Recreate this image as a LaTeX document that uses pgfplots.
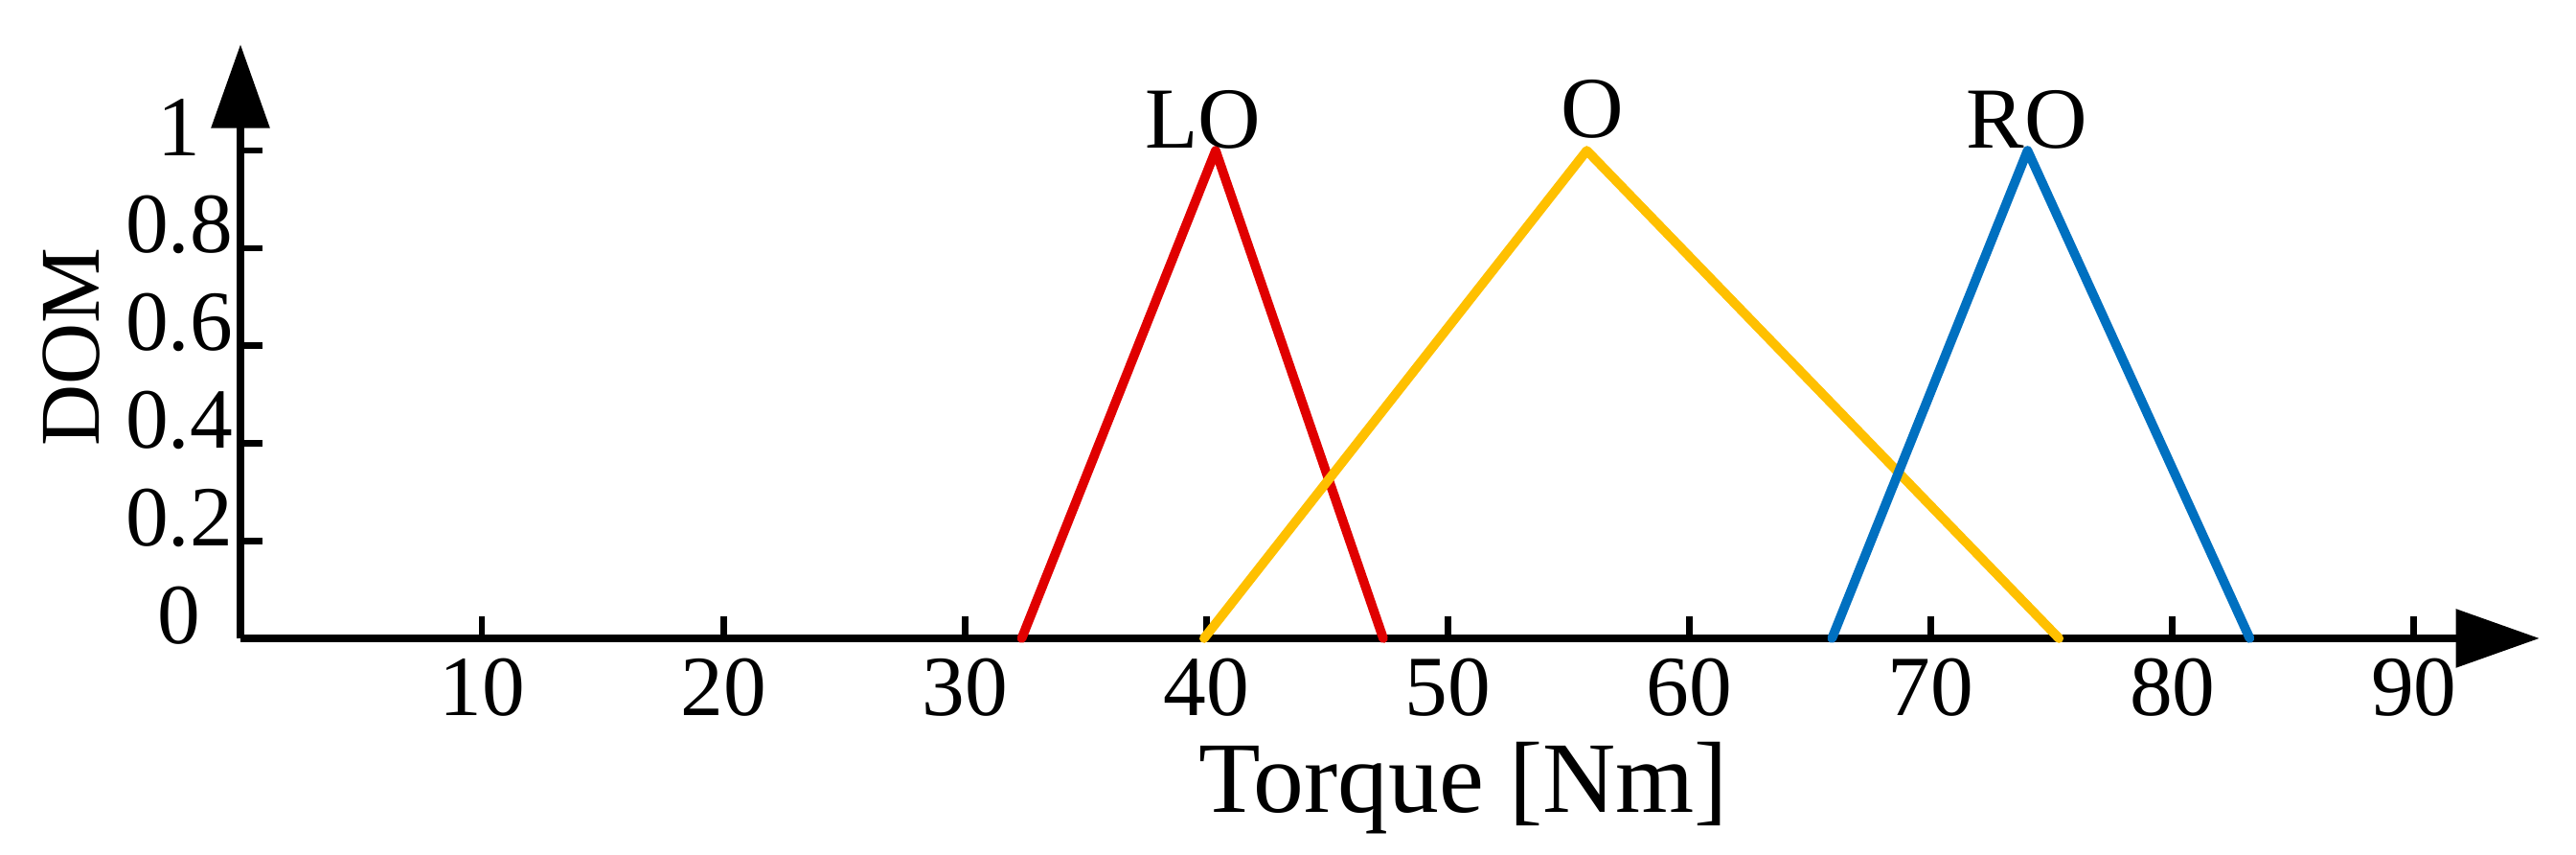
\documentclass[border=0pt]{standalone}
\usepackage{fontspec}
\setmainfont{Liberation Serif}
\usepackage{pgfplots}
\pgfplotsset{compat=1.18}
\usetikzlibrary{arrows.meta}

\definecolor{lored}{RGB}{224,0,0}
\definecolor{ogold}{RGB}{255,192,0}
\definecolor{roblue}{RGB}{0,112,192}

\begin{document}
\begin{tikzpicture}
\begin{axis}[
    scale only axis,
    width=357pt, height=92.2pt,
    xmin=0, xmax=95.2,
    ymin=0, ymax=1.218,
    axis lines=left,
    axis line style={line width=1.3pt, -{Triangle[length=13pt,width=8.8pt]}},
    tick align=inside,
    major tick length=3.4pt,
    tick style={black, line width=1pt},
    xtick={10,20,...,90},
    ytick={0,0.2,0.4,0.6,0.8,1},
    yticklabels={0,0.2,0.4,0.6,0.8,1},
    /pgf/number format/assume math mode=true,
    tick label style={font=\fontsize{13.3}{15}\selectfont},
    xticklabel style={anchor=center, yshift=-7.6pt},
    yticklabel style={anchor=center, xshift=-9.5pt, yshift=3.6pt},
    xlabel={Torque [Nm]},
    xlabel style={font=\fontsize{15.7}{18}\selectfont, anchor=base,
        at={(axis description cs:0.532,0)}, yshift=-27.0pt},
    ylabel={DOM},
    ylabel style={font=\fontsize{13.2}{16}\selectfont, anchor=center,
        at={(axis description cs:0,0.49)}, yshift=26.2pt},
    clip=false,
    every axis plot/.append style={line width=1.45pt, line join=round, line cap=round},
]
% LO
\addplot[color=lored] coordinates {(32.35,0) (40.38,1) (47.32,0)};
% O
\addplot[color=ogold] coordinates {(39.9,0) (55.75,1) (75.3,0)};
% RO
\addplot[color=roblue] coordinates {(65.9,0) (74.0,1) (83.2,0)};

\node[anchor=base, font=\fontsize{13.5}{16}\selectfont] at (axis cs:39.85,1.006) {LO};
\node[anchor=base, font=\fontsize{13.5}{16}\selectfont] at (axis cs:56.0,1.027) {O};
\node[anchor=base, font=\fontsize{13.5}{16}\selectfont] at (axis cs:73.97,1.006) {RO};

\coordinate (o) at (axis cs:0,0);
\end{axis}
\pgfresetboundingbox
\path[use as bounding box] (o) ++(-37.34pt,-33.62pt) rectangle ++(400pt,132.69pt);
\end{tikzpicture}
\end{document}
